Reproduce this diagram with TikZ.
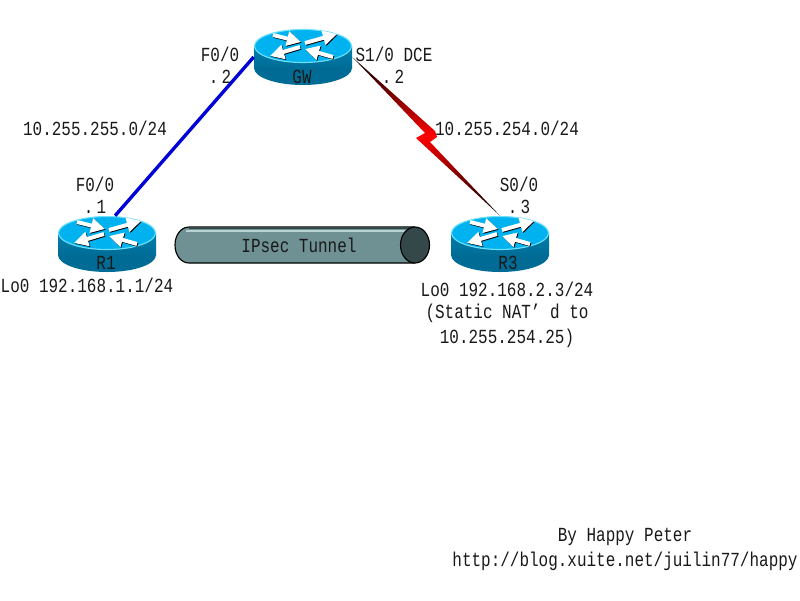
\documentclass[tikz,border=0pt]{standalone}
\usepackage{fontspec}
\setmainfont[FakeStretch=0.8]{Liberation Mono}
\usetikzlibrary{arrows.meta}
\definecolor{routerTop}{RGB}{0, 178, 240}
\definecolor{routerRim}{RGB}{110, 225, 250}
\definecolor{routerBody}{RGB}{0, 128, 172}
\definecolor{routerLow}{RGB}{0, 108, 150}
\definecolor{tubeFill}{RGB}{111, 145, 148}
\definecolor{tubeCap}{RGB}{52, 71, 73}
\definecolor{tubeShine}{RGB}{185, 210, 210}
\definecolor{linkBlue}{RGB}{0, 0, 215}
\definecolor{labelInk}{RGB}{25, 25, 25}

\begin{document}
\begin{tikzpicture}[x=0.025cm, y=-0.025cm,
        font=\fontsize{14.2}{17}\selectfont,
        txt/.style={inner sep=0pt, text=labelInk, align=center},
        wedge/.style={-{Triangle[length=10pt, width=10pt]}, line width=2.8pt},
        router/.style={rectangle, draw=none, inner sep=0pt, minimum width=2.45cm, minimum height=1.4cm,
            path picture={
                \begin{scope}[shift={(path picture bounding box.center)}]
                    \fill[routerLow] (0,11) ellipse[x radius=49, y radius=17];
                    \fill[top color=routerBody, bottom color=routerLow] (-49,-11) rectangle (49,11);
                    \draw[fill=routerTop, draw=routerRim, line width=0.8pt] (0,-11) ellipse[x radius=48.5, y radius=16.5];
                    \foreach \ax/\ay/\bx/\by in {-30/-22/-2/-15, 2/-14/34/-23, -3/-10/-33/-1, 30/0/2/-8} {
                        \draw[wedge, black] (\ax+0.8,\ay+0.8) -- (\bx+0.8,\by+0.8);
                        \draw[wedge, white] (\ax,\ay) -- (\bx,\by);
                    }
                \end{scope}
            }},
        tunnel/.style={rectangle, draw=none, inner sep=0pt, minimum width=6.4cm, minimum height=0.94cm,
            path picture={
                \begin{scope}[shift={(path picture bounding box.center)}]
                    \draw[fill=tubeFill, draw=black, line width=0.8pt] (113,18) -- (-113,18)
                        .. controls (-121,18) and (-127,10) .. (-127,0)
                        .. controls (-127,-10) and (-121,-18) .. (-113,-18) -- (113,-18);
                    \draw[tubeCap, line width=1.6pt] (-113,-17.2) -- (113,-17.2);
                    \draw[tubeShine, line width=1.4pt] (-116,-14) -- (108,-14);
                    \draw[fill=tubeCap, draw=black, line width=0.8pt] (113,0) ellipse[x radius=14.5, y radius=18];
                \end{scope}
            }}]
    \useasboundingbox (0,0) rectangle (800,600);

    \node[router] (R1) at (107,244) {};
    \node[router] (GW) at (303,57) {};
    \node[router] (R3) at (500,244) {};
    \node[tunnel] (tunnel) at (302,245) {};

    \draw[linkBlue, line width=2.4pt] (R1.74) -- (GW.west);
    \shade[top color=black, bottom color=black, middle color=red]
        (GW.east) -- (435,131) -- (437,137) -- (430,142) -- (R3.north) -- (416,138) -- (425,133) -- cycle;

    % router names
    \node[txt] (nameR1) at (106,263) {R1};
    \node[txt] (nameGW) at (302,77) {GW};
    \node[txt] (nameR3) at (508,263) {R3};
    \node[txt] (nameTunnel) at (299,245) {IPsec Tunnel};

    % interfaces and networks
    \node[txt] (gwF) at (220,54) {F0/0};
    \node[txt] (gwFip) at (220,77) {.\,2};
    \node[txt] (gwS) at (394,54) {S1/0 DCE};
    \node[txt] (gwSip) at (393,77) {.\,2};
    \node[txt] (netA) at (95,128) {10.255.255.0/24};
    \node[txt] (netB) at (507,128) {10.255.254.0/24};
    \node[txt] (r1F) at (95,184) {F0/0};
    \node[txt] (r1Fip) at (95,207) {.\,1};
    \node[txt] (r3S) at (519,184) {S0/0};
    \node[txt] (r3Sip) at (519,207) {.\,3};
    \node[txt] (r1Lo) at (87,285) {Lo0 192.168.1.1/24};
    \node[txt] (r3Lo) at (507,289) {Lo0 192.168.2.3/24};
    \node[txt] (r3Nat) at (507,313) {(Static NAT’ d to};
    \node[txt] (r3Pub) at (507,338) {10.255.254.25)};
    \node[txt] (byline) at (625,537) {By Happy Peter};
    \node[txt] (blog) at (625,561) {http://blog.xuite.net/juilin77/happy};
\end{tikzpicture}
\end{document}
